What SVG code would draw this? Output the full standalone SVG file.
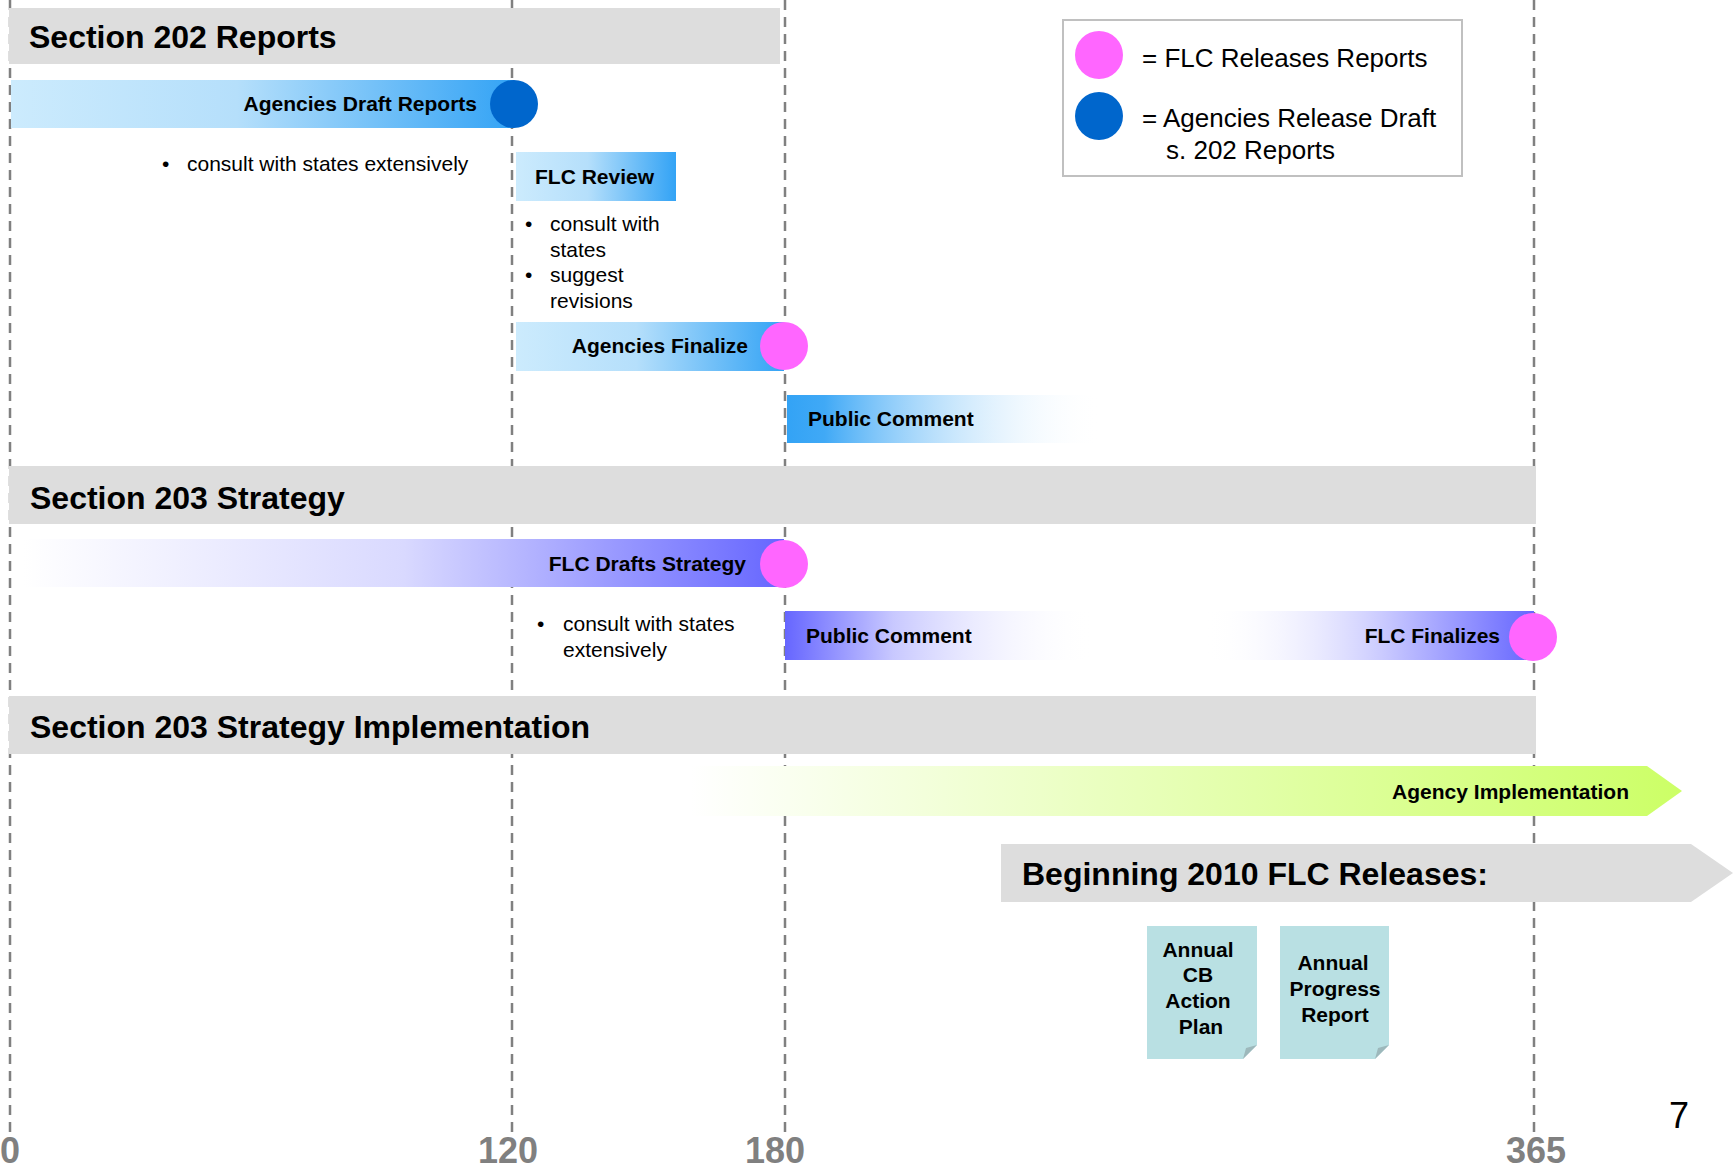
<svg xmlns="http://www.w3.org/2000/svg" width="1733" height="1168" viewBox="0 0 1733 1168">
<defs>
<style>
text{font-family:"Liberation Sans",Arial,sans-serif;fill:#000}
.h{font-size:32px;font-weight:bold}
.b{font-size:21px;font-weight:bold}
.r{font-size:21px}
.lg{font-size:26px}
.ax{font-size:36px;font-weight:bold;fill:#808080}
.sec{fill:#DDDDDD}
.grid{stroke:#808080;stroke-width:2.5;stroke-dasharray:10 7;fill:none}
.pink{fill:#FF66FF}
.blue{fill:#0066CC}
.doc{fill:#B9E0E3}
.fold{fill:#9DB8BB}
</style>
<linearGradient id="gBlue" x1="0" y1="0" x2="1" y2="0">
<stop offset="0" stop-color="#CCEBFD"/>
<stop offset="0.45" stop-color="#B5DFFB"/>
<stop offset="1" stop-color="#33A3F5"/>
</linearGradient>
<linearGradient id="gBlueFade" x1="0" y1="0" x2="1" y2="0">
<stop offset="0" stop-color="#33A3F5"/>
<stop offset="0.12" stop-color="#40A9F6"/>
<stop offset="1" stop-color="#FFFFFF" stop-opacity="0"/>
</linearGradient>
<linearGradient id="gPurpleIn" x1="0" y1="0" x2="1" y2="0">
<stop offset="0" stop-color="#FFFFFF"/>
<stop offset="0.5" stop-color="#D9D9FF"/>
<stop offset="1" stop-color="#6666FF"/>
</linearGradient>
<linearGradient id="gPurpleOut" x1="0" y1="0" x2="1" y2="0">
<stop offset="0" stop-color="#6666FF"/>
<stop offset="0.35" stop-color="#C8C8FF"/>
<stop offset="1" stop-color="#FFFFFF" stop-opacity="0"/>
</linearGradient>
<linearGradient id="gPurpleIn2" x1="0" y1="0" x2="1" y2="0">
<stop offset="0" stop-color="#FFFFFF" stop-opacity="0"/>
<stop offset="0.55" stop-color="#C8C8FF"/>
<stop offset="1" stop-color="#6666FF"/>
</linearGradient>
<linearGradient id="gGreen" x1="0" y1="0" x2="1" y2="0">
<stop offset="0" stop-color="#FFFFFF"/>
<stop offset="1" stop-color="#CCFF66"/>
</linearGradient>
</defs>

<g id="gridlines">
<line class="grid" x1="10" y1="0" x2="10" y2="1133"/>
<line class="grid" x1="512" y1="0" x2="512" y2="1133"/>
<line class="grid" x1="785" y1="0" x2="785" y2="1133"/>
<line class="grid" x1="1534" y1="0" x2="1534" y2="1133"/>
</g>

<g id="section202">
<rect class="sec" x="9" y="8" width="771" height="56"/>
<text class="h" x="29" y="48">Section 202 Reports</text>
</g>

<g id="agencies-draft">
<rect x="11" y="80" width="503" height="48" fill="url(#gBlue)"/>
<ellipse class="blue" cx="514" cy="104" rx="24" ry="24"/>
<text class="b" x="477" y="111" text-anchor="end">Agencies Draft Reports</text>
</g>

<g id="note-draft">
<text class="r" x="162" y="171">•</text>
<text class="r" x="187" y="171">consult with states extensively</text>
</g>

<g id="flc-review">
<rect x="516" y="152" width="160" height="49" fill="url(#gBlue)"/>
<text class="b" x="535" y="184">FLC Review</text>
</g>

<g id="note-review">
<text class="r" x="525" y="231">•</text>
<text class="r" x="550" y="231">consult with</text>
<text class="r" x="550" y="257">states</text>
<text class="r" x="525" y="282">•</text>
<text class="r" x="550" y="282">suggest</text>
<text class="r" x="550" y="308">revisions</text>
</g>

<g id="agencies-finalize">
<rect x="516" y="322" width="268" height="49" fill="url(#gBlue)"/>
<circle class="pink" cx="784" cy="346" r="24"/>
<text class="b" x="748" y="353" text-anchor="end">Agencies Finalize</text>
</g>

<g id="public-comment-202">
<rect x="787" y="395" width="313" height="48" fill="url(#gBlueFade)"/>
<text class="b" x="808" y="426">Public Comment</text>
</g>

<g id="section203">
<rect class="sec" x="9" y="466" width="1527" height="58"/>
<text class="h" x="30" y="509">Section 203 Strategy</text>
</g>

<g id="flc-drafts">
<rect x="24" y="539" width="760" height="48" fill="url(#gPurpleIn)"/>
<ellipse class="pink" cx="784" cy="564" rx="24" ry="24"/>
<text class="b" x="746" y="571" text-anchor="end">FLC Drafts Strategy</text>
</g>

<g id="note-drafts">
<text class="r" x="537" y="631">•</text>
<text class="r" x="563" y="631">consult with states</text>
<text class="r" x="563" y="657">extensively</text>
</g>

<g id="public-comment-203">
<rect x="785" y="611" width="309" height="49" fill="url(#gPurpleOut)"/>
<text class="b" x="806" y="643">Public Comment</text>
</g>

<g id="flc-finalizes">
<rect x="1205" y="611" width="329" height="49" fill="url(#gPurpleIn2)"/>
<ellipse class="pink" cx="1533" cy="637" rx="24" ry="24"/>
<text class="b" x="1500" y="643" text-anchor="end">FLC Finalizes</text>
</g>

<g id="section203impl">
<rect class="sec" x="9" y="696" width="1527" height="58"/>
<text class="h" x="30" y="738">Section 203 Strategy Implementation</text>
</g>

<g id="agency-implementation">
<polygon points="691,766 1647,766 1682,791 1647,816 691,816" fill="url(#gGreen)"/>
<text class="b" x="1629" y="799" text-anchor="end">Agency Implementation</text>
</g>

<g id="beginning-2010">
<polygon class="sec" points="1001,844 1691,844 1733,873 1691,902 1001,902"/>
<text class="h" x="1022" y="885">Beginning 2010 FLC Releases:</text>
</g>

<g id="doc-action-plan">
<path class="doc" d="M1147,926 H1257 V1045 L1243,1059 H1147 Z"/>
<path class="fold" d="M1257,1045 L1243,1059 L1246,1048 Z"/>
<text class="b" x="1198" y="957" text-anchor="middle">Annual</text>
<text class="b" x="1198" y="982" text-anchor="middle">CB</text>
<text class="b" x="1198" y="1008" text-anchor="middle">Action</text>
<text class="b" x="1201" y="1034" text-anchor="middle">Plan</text>
</g>

<g id="doc-progress-report">
<path class="doc" d="M1280,926 H1389 V1045 L1375,1059 H1280 Z"/>
<path class="fold" d="M1389,1045 L1375,1059 L1378,1048 Z"/>
<text class="b" x="1333" y="970" text-anchor="middle">Annual</text>
<text class="b" x="1335" y="996" text-anchor="middle">Progress</text>
<text class="b" x="1335" y="1022" text-anchor="middle">Report</text>
</g>

<g id="legend">
<rect x="1063" y="20" width="399" height="156" fill="#FFFFFF" stroke="#C0C0C0" stroke-width="2"/>
<circle class="pink" cx="1099" cy="55" r="24"/>
<circle class="blue" cx="1099" cy="116" r="24"/>
<text class="lg" x="1142" y="67">= FLC Releases Reports</text>
<text class="lg" x="1142" y="127">= Agencies Release Draft</text>
<text class="lg" x="1166" y="159">s. 202 Reports</text>
</g>

<g id="axis">
<text class="ax" x="0" y="1163">0</text>
<text class="ax" x="508" y="1163" text-anchor="middle">120</text>
<text class="ax" x="775" y="1163" text-anchor="middle">180</text>
<text class="ax" x="1536" y="1163" text-anchor="middle">365</text>
</g>

<text x="1669" y="1128" font-size="36">7</text>
</svg>
